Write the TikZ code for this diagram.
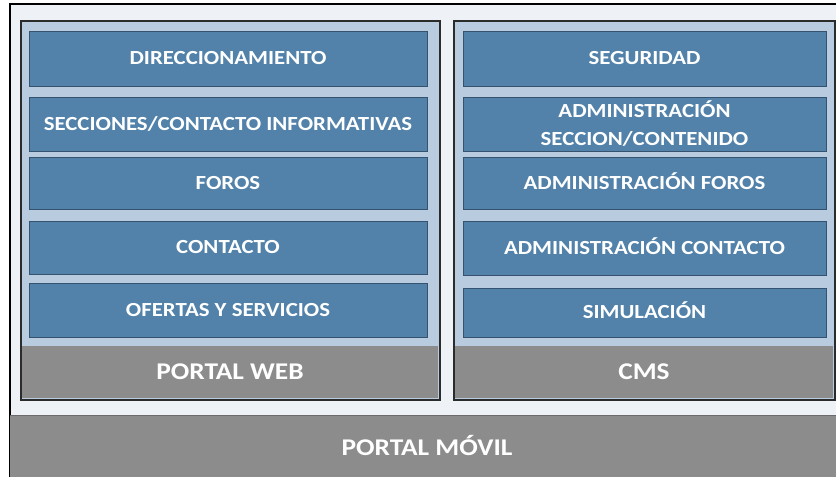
\documentclass[tikz,border=0pt]{standalone}
\usepackage{fontspec}
\setmainfont{Carlito}
\definecolor{framebg}{HTML}{EEF2F7}
\definecolor{panelbg}{HTML}{B9CCDF}
\definecolor{boxfill}{HTML}{5282AA}
\definecolor{boxline}{HTML}{35536F}
\definecolor{barfill}{HTML}{8C8C8C}
\definecolor{darkline}{HTML}{2B2B2B}
% slightly widened bold label text
\newcommand{\widetext}[1]{\scalebox{1.14}[1]{#1}}
\tikzset{
  modbox/.style={draw=boxline, line width=1pt, fill=boxfill, text=white,
    font=\fontsize{20}{28}\selectfont\bfseries, align=center, inner sep=0pt},
  capsonly/.style={text height=12.7pt, text depth=0pt},
  panel/.style={draw=darkline, line width=1.2pt, fill=panelbg, inner sep=0pt},
  bar/.style={fill=barfill, text=white, inner sep=0pt,
    font=\fontsize{24}{26}\selectfont\bfseries}
}
\newcommand{\modnode}[7][capsonly]{% style, name, x0, y0, x1, y1, text
  \node[modbox, #1, minimum width={(#5-#3)*1pt}, minimum height={(#6-#4)*1pt}]
    (#2) at ({(#3+#5)/2},{(#4+#6)/2}) {#7};}
\begin{document}
\begin{tikzpicture}[x=1pt, y=-1pt]
  \useasboundingbox (0,0) rectangle (836,477);
  % outer frame
  \fill[framebg] (10,4) rectangle (836,477);
  \draw[black, line width=1.5pt] (836,4) -- (10,4) -- (10,477);
  % bottom mobile portal bar
  \node[bar, minimum width=826pt, minimum height=62pt, anchor=north west] (movil) at (10,415) {};
  \draw[darkline!70, line width=0.8pt] (movil.north west) -- (movil.north east);
  \node[bar, fill=none, text height=15.2pt, text depth=0pt] (movillabel) at (427,447.5) {\widetext{PORTAL MÓVIL}};
  % left panel
  \node[panel, minimum width=418pt, minimum height=378pt, anchor=north west] (web) at (21,21) {};
  \fill[barfill] (21.6,345.5) rectangle (438.4,398.4);
  \node[bar, fill=none, text height=15.2pt, text depth=0pt] (weblabel) at (230,371.5) {\widetext{PORTAL WEB}};
  \draw[darkline, line width=1.2pt] (web.north west) rectangle (web.south east);
  \modnode{d1}{29}{31}{427}{86}{\widetext{DIRECCIONAMIENTO}}
  \modnode{d2}{29}{97}{427}{151}{\widetext{SECCIONES/CONTACTO INFORMATIVAS}}
  \modnode{d3}{29}{157}{427}{209}{\widetext{FOROS}}
  \modnode{d4}{29}{221}{427}{274}{\widetext{CONTACTO}}
  \modnode{d5}{29}{283}{427}{337}{\widetext{OFERTAS Y SERVICIOS}}
  % right panel
  \node[panel, minimum width=380pt, minimum height=378pt, anchor=north west] (cms) at (454,21) {};
  \fill[barfill] (454.6,345.5) rectangle (833.4,398.4);
  \node[bar, fill=none, text height=15.2pt, text depth=0pt] (cmslabel) at (644,371.5) {\widetext{CMS}};
  \draw[darkline, line width=1.2pt] (cms.north west) rectangle (cms.south east);
  \modnode{c1}{463}{31}{826}{86}{\widetext{SEGURIDAD}}
  \modnode[]{c2}{463}{97}{826}{151}{\widetext{ADMINISTRACIÓN}\\\widetext{SECCION/CONTENIDO}}
  \modnode{c3}{463}{157}{826}{209}{\widetext{ADMINISTRACIÓN FOROS}}
  \modnode{c4}{463}{221}{826}{275}{\widetext{ADMINISTRACIÓN CONTACTO}}
  \modnode{c5}{463}{288}{826}{337}{\widetext{SIMULACIÓN}}
\end{tikzpicture}
\end{document}
